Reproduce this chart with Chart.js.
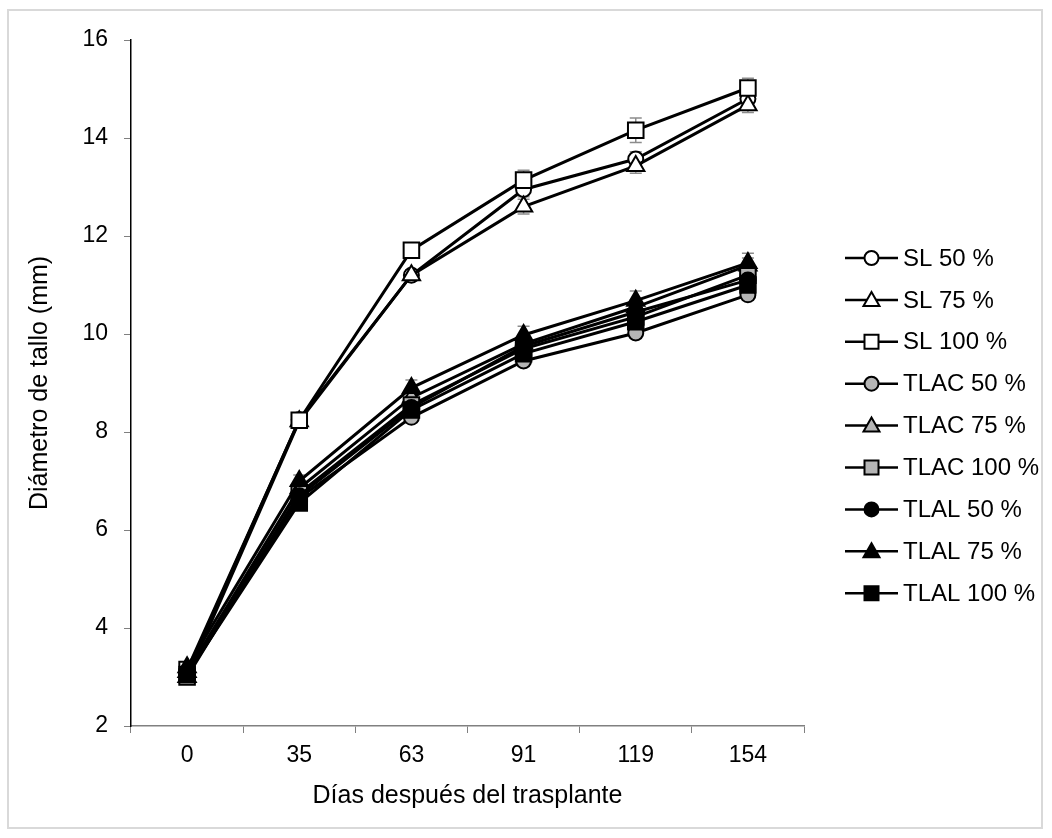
<!DOCTYPE html>
<html lang="es">
<head>
<meta charset="utf-8">
<title>Diámetro de tallo</title>
<script src="https://cdn.jsdelivr.net/npm/chart.js@4.4.1/dist/chart.umd.min.js"></script>
<style>
  html, body { margin: 0; padding: 0; background: #fff; }
  #wrap { position: relative; width: 1052px; height: 838px; overflow: hidden; }
  #marco { position: absolute; left: 7px; top: 9px; width: 1036px; height: 820px; border: 2px solid #d9d9d9; box-sizing: border-box; }
  #grafico { position: absolute; left: 0; top: 0; }
</style>
</head>
<body>
<div id="wrap">
  <div id="marco"></div>
  <canvas id="grafico" width="1052" height="838"></canvas>
</div>
<script>
// Días después del trasplante
const dias = ['0', '35', '63', '91', '119', '154'];
const ticksY = [2, 4, 6, 8, 10, 12, 14, 16];

// Diámetro de tallo (mm) por tratamiento
const sl50 = [3.10, 8.25, 11.20, 12.95, 13.57, 14.80];
const sl75 = [3.00, 8.22, 11.20, 12.60, 13.43, 14.67];
const sl100 = [3.15, 8.24, 11.71, 13.14, 14.16, 15.02];
const tlac50 = [3.05, 6.65, 8.30, 9.45, 10.02, 10.80];
const tlac75 = [3.10, 6.85, 8.70, 9.80, 10.55, 11.40];
const tlac100 = [3.00, 6.75, 8.55, 9.70, 10.35, 11.20];
const tlal50 = [3.10, 6.70, 8.50, 9.75, 10.45, 11.10];
const tlal75 = [3.20, 7.00, 8.90, 9.98, 10.68, 11.45];
const tlal100 = [3.05, 6.55, 8.45, 9.60, 10.25, 11.00];

// Error estándar
const sl50Err = [0.05, 0.10, 0.10, 0.15, 0.15, 0.15];
const sl75Err = [0.05, 0.10, 0.10, 0.15, 0.15, 0.15];
const sl100Err = [0.10, 0.10, 0.10, 0.20, 0.25, 0.20];
const tlac50Err = [0.05, 0.10, 0.10, 0.10, 0.10, 0.10];
const tlac75Err = [0.05, 0.10, 0.10, 0.10, 0.15, 0.15];
const tlac100Err = [0.05, 0.10, 0.10, 0.10, 0.10, 0.10];
const tlal50Err = [0.05, 0.10, 0.10, 0.10, 0.10, 0.10];
const tlal75Err = [0.10, 0.12, 0.16, 0.18, 0.20, 0.20];
const tlal100Err = [0.05, 0.10, 0.10, 0.10, 0.10, 0.10];

const FUENTE = '"Liberation Sans", Arial, sans-serif';

const series = [
  { label: 'SL 50 %', data: sl50, err: sl50Err, forma: 'circle', relleno: '#ffffff' },
  { label: 'SL 75 %', data: sl75, err: sl75Err, forma: 'triangle', relleno: '#ffffff' },
  { label: 'SL 100 %', data: sl100, err: sl100Err, forma: 'rect', relleno: '#ffffff' },
  { label: 'TLAC 50 %', data: tlac50, err: tlac50Err, forma: 'circle', relleno: '#b5b5b5' },
  { label: 'TLAC 75 %', data: tlac75, err: tlac75Err, forma: 'triangle', relleno: '#b5b5b5' },
  { label: 'TLAC 100 %', data: tlac100, err: tlac100Err, forma: 'rect', relleno: '#b5b5b5' },
  { label: 'TLAL 50 %', data: tlal50, err: tlal50Err, forma: 'circle', relleno: '#000000' },
  { label: 'TLAL 75 %', data: tlal75, err: tlal75Err, forma: 'triangle', relleno: '#000000' },
  { label: 'TLAL 100 %', data: tlal100, err: tlal100Err, forma: 'rect', relleno: '#000000' }
];

const radios = { circle: 7.5, triangle: 10, rect: 11 };

const datasets = series.map((s, i) => ({
  label: s.label,
  data: s.data,
  errores: s.err,
  borderColor: '#000',
  borderWidth: 3,
  tension: 0,
  pointStyle: s.forma,
  pointRadius: radios[s.forma],
  pointBorderColor: '#000',
  pointBorderWidth: 2,
  pointBackgroundColor: s.relleno,
  order: series.length - 1 - i   // la última serie queda encima
}));

// barras de error grises con remate
const barrasError = {
  id: 'barrasError',
  beforeDatasetsDraw(chart) {
    const { ctx } = chart;
    const y = chart.scales.y;
    ctx.save();
    ctx.strokeStyle = '#8c8c8c';
    ctx.lineWidth = 1.5;
    chart.data.datasets.forEach((ds, i) => {
      chart.getDatasetMeta(i).data.forEach((pt, j) => {
        const e = ds.errores[j];
        if (!e) return;
        const arriba = y.getPixelForValue(ds.data[j] + e);
        const abajo = y.getPixelForValue(ds.data[j] - e);
        ctx.beginPath();
        ctx.moveTo(pt.x, arriba); ctx.lineTo(pt.x, abajo);
        ctx.moveTo(pt.x - 6, arriba); ctx.lineTo(pt.x + 6, arriba);
        ctx.moveTo(pt.x - 6, abajo); ctx.lineTo(pt.x + 6, abajo);
        ctx.stroke();
      });
    });
    ctx.restore();
  }
};

function marcador(ctx, forma, x, y) {
  ctx.beginPath();
  if (forma === 'circle') {
    ctx.arc(x, y, 7, 0, Math.PI * 2);
  } else if (forma === 'triangle') {
    ctx.moveTo(x, y - 8);
    ctx.lineTo(x + 8, y + 6);
    ctx.lineTo(x - 8, y + 6);
    ctx.closePath();
  } else {
    ctx.rect(x - 7, y - 7, 14, 14);
  }
  ctx.fill();
  ctx.stroke();
}

// leyenda con línea y marcador, como en la hoja de cálculo
const leyenda = {
  id: 'leyenda',
  afterDraw(chart, args, opts) {
    const { ctx } = chart;
    ctx.save();
    ctx.font = opts.fuente;
    ctx.textBaseline = 'middle';
    chart.data.datasets.forEach((ds, i) => {
      const y = opts.top + i * opts.paso;
      ctx.strokeStyle = '#000';
      ctx.lineWidth = 2.5;
      ctx.beginPath();
      ctx.moveTo(opts.left, y);
      ctx.lineTo(opts.left + opts.largo, y);
      ctx.stroke();
      ctx.lineWidth = 2;
      ctx.fillStyle = ds.pointBackgroundColor;
      marcador(ctx, ds.pointStyle, opts.left + opts.largo / 2, y);
      ctx.fillStyle = '#000';
      ctx.fillText(ds.label, opts.left + opts.largo + 5, y + 1);
    });
    ctx.restore();
  }
};

new Chart(document.getElementById('grafico'), {
  type: 'line',
  data: { labels: dias, datasets },
  options: {
    responsive: false,
    animation: false,
    layout: { padding: { left: 0, right: 248, top: 40, bottom: 0 } },
    plugins: {
      legend: { display: false },
      tooltip: { enabled: false },
      leyenda: { left: 845, largo: 53, top: 258, paso: 41.9, fuente: '24px ' + FUENTE }
    },
    scales: {
      x: {
        offset: true,
        grid: { offset: true, drawOnChartArea: false, tickLength: 7, tickColor: '#808080' },
        border: { color: '#808080', width: 1.5 },
        ticks: { color: '#000', padding: 9, font: { family: FUENTE, size: 23 } },
        title: {
          display: true,
          text: 'Días después del trasplante',
          color: '#000',
          font: { family: FUENTE, size: 25 },
          padding: { top: 0, bottom: 27 }
        },
        afterFit(scale) { scale.height = 112; }
      },
      y: {
        min: 2,
        max: 16,
        afterBuildTicks(scale) { scale.ticks = ticksY.map(v => ({ value: v })); },
        grid: { drawOnChartArea: false, tickLength: 7, tickColor: '#808080' },
        border: { color: '#000', width: 1.5 },
        ticks: { color: '#000', padding: 16, font: { family: FUENTE, size: 23 } },
        title: {
          display: true,
          text: 'Diámetro de tallo (mm)',
          color: '#000',
          font: { family: FUENTE, size: 25 },
          padding: { top: 25, bottom: 0 }
        },
        afterFit(scale) { scale.width = 131; }
      }
    }
  },
  plugins: [barrasError, leyenda]
});
</script>
</body>
</html>
